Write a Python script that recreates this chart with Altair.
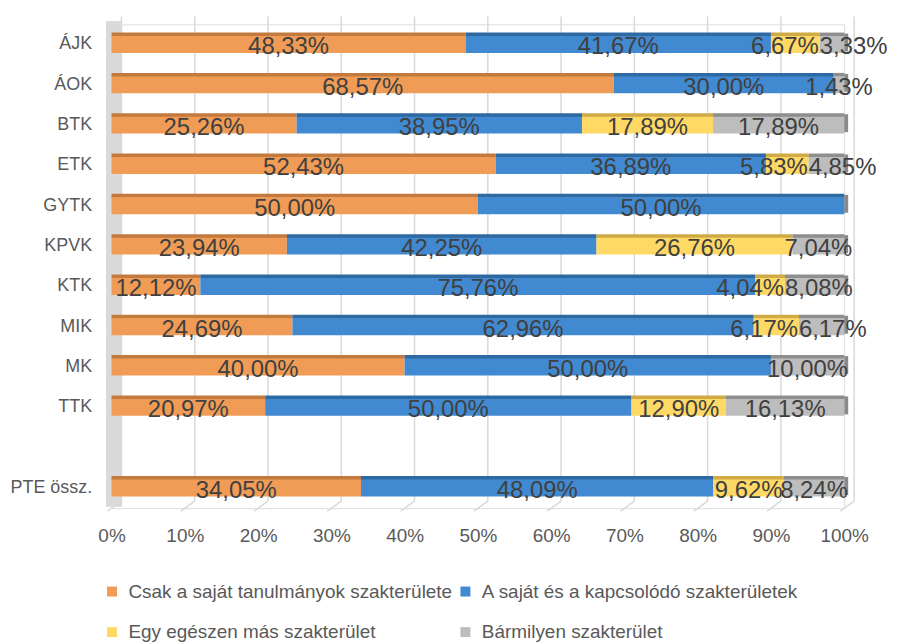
import altair as alt
import pandas as pd

categories = ["ÁJK", "ÁOK", "BTK", "ETK", "GYTK", "KPVK", "KTK", "MIK", "MK", "TTK", " ", "PTE össz."]
series = [
    "Csak a saját tanulmányok szakterülete",
    "A saját és a kapcsolódó szakterületek",
    "Egy egészen más szakterület",
    "Bármilyen szakterület",
]
csak = [48.33, 68.57, 25.26, 52.43, 50.00, 23.94, 12.12, 24.69, 40.00, 20.97, None, 34.05]
sajat = [41.67, 30.00, 38.95, 36.89, 50.00, 42.25, 75.76, 62.96, 50.00, 50.00, None, 48.09]
egy = [6.67, 0.00, 17.89, 5.83, 0.00, 26.76, 4.04, 6.17, 0.00, 12.90, None, 9.62]
barm = [3.33, 1.43, 17.89, 4.85, 0.00, 7.04, 8.08, 6.17, 10.00, 16.13, None, 8.24]
ticks = [0, 10, 20, 30, 40, 50, 60, 70, 80, 90, 100]

colors = ["#F09C56", "#4189D0", "#FFD966", "#BDBDBD"]
top_colors = ["#C27A3E", "#2E69A2", "#CFAA45", "#8E8E8E"]

rows = []
for ci, cat in enumerate(categories):
    vals_row = [csak[ci], sajat[ci], egy[ci], barm[ci]]
    present = [si for si in range(4) if vals_row[si] is not None and vals_row[si] > 0]
    for si, name in enumerate(series):
        v = vals_row[si]
        if v is None or v <= 0:
            continue
        # label anchoring: small adjacent segments are pushed apart (as in the reference)
        small_yellow = vals_row[2] is not None and 0 < vals_row[2] < 7
        if si == 2 and small_yellow:
            anchor = "end"
        elif si == 3 and small_yellow:
            anchor = "start"
        else:
            anchor = "mid"
        rows.append({
            "cat": cat,
            "series": name,
            "order": si,
            "v": v,
            "anchor": anchor,
            "last": si == present[-1],
            "label": f"{v:.2f}%".replace(".", ","),
        })
df = pd.DataFrame(rows)
tick_df = pd.DataFrame({"t": ticks})

FONT = "Liberation Sans"
xscale = alt.Scale(domain=[0, 100], nice=False, zero=True)
yscale = alt.Scale(domain=categories, paddingInner=0.5, paddingOuter=0.25)

xaxis = alt.Axis(
    values=ticks, labelExpr="datum.value + '%'", grid=False, domain=False, ticks=False,
    labelPadding=18, labelFontSize=19, labelColor="#595959", labelFont=FONT, title=None,
    labelFlush=False, labelOverlap=False,
)
yaxis = alt.Axis(
    domain=False, ticks=False, grid=False, labelPadding=20, labelFontSize=18,
    labelColor="#595959", labelFont=FONT, title=None, labelAlign="right",
)

wall = alt.Chart(tick_df).mark_rect(color="#DADADA").encode(
    x=alt.value(-5), x2=alt.value(10), y=alt.value(-3), y2=alt.value(484)
)

grid = alt.Chart(tick_df).mark_rule(color="#D9D9D9", strokeWidth=1.5, xOffset=10).encode(
    x=alt.X("t:Q", scale=xscale, axis=xaxis), y=alt.value(-8), y2=alt.value(479)
)
grid_diag = alt.Chart(tick_df).mark_rule(color="#D9D9D9", strokeWidth=1.5, xOffset=10, x2Offset=-4).encode(
    x=alt.X("t:Q", scale=xscale, axis=xaxis), x2="t:Q", y=alt.value(479), y2=alt.value(489)
)

base = alt.Chart(df).transform_stack(
    stack="v", as_=["x0", "x1"], groupby=["cat"], sort=[alt.SortField("order")]
).transform_calculate(mid="(datum.x0 + datum.x1) / 2")

top_strip = base.mark_bar(size=4, yOffset=-10).encode(
    x=alt.X("x0:Q", scale=xscale, axis=xaxis),
    x2="x1:Q",
    y=alt.Y("cat:N", scale=yscale, axis=yaxis),
    color=alt.Color("series:N", scale=alt.Scale(domain=series, range=top_colors), legend=None),
)

end_cap = base.transform_filter(alt.datum.last).mark_bar(
    size=18, yOffset=-2, x2Offset=4, color="#8A8A8A"
).encode(
    x=alt.X("x1:Q", scale=xscale, axis=xaxis),
    x2="x1:Q",
    y=alt.Y("cat:N", scale=yscale, axis=yaxis),
)

bars = base.mark_bar(size=17).encode(
    x=alt.X("x0:Q", scale=xscale, axis=xaxis),
    x2="x1:Q",
    y=alt.Y("cat:N", scale=yscale, axis=yaxis),
    color=alt.Color(
        "series:N",
        scale=alt.Scale(domain=series, range=colors),
        legend=alt.Legend(
            orient="none", legendX=-9, legendY=560, columns=2, direction="horizontal", title=None,
            symbolType="square", symbolSize=100, symbolStrokeWidth=0,
            labelFontSize=19, labelColor="#595959", labelFont=FONT, labelOffset=7,
            columnPadding=3, rowPadding=21, padding=0, labelLimit=500,
        ),
    ),
)

def label_layer(anchor, field, align, dx):
    return base.transform_filter(alt.datum.anchor == anchor).mark_text(
        fontSize=24, color="#404040", font=FONT, dy=3, dx=dx, baseline="middle", align=align
    ).encode(
        x=alt.X(f"{field}:Q", scale=xscale, axis=xaxis),
        y=alt.Y("cat:N", scale=yscale, axis=yaxis),
        text="label:N",
    )

labels_mid = label_layer("mid", "mid", "center", 0)
labels_end = label_layer("end", "x1", "right", -1)
labels_start = label_layer("start", "x0", "left", 0)

chart = alt.layer(
    wall, grid, grid_diag, top_strip, end_cap, bars, labels_mid, labels_end, labels_start
).resolve_scale(
    color="independent"
).properties(
    width=736,
    height=486,
    autosize=alt.AutoSizeParams(type="none"),
    padding={"left": 104, "top": 15, "right": 46, "bottom": 133},
).configure_view(stroke="transparent").configure(font=FONT)

chart.save("out.html", embed_options={"renderer": "svg", "actions": False})
